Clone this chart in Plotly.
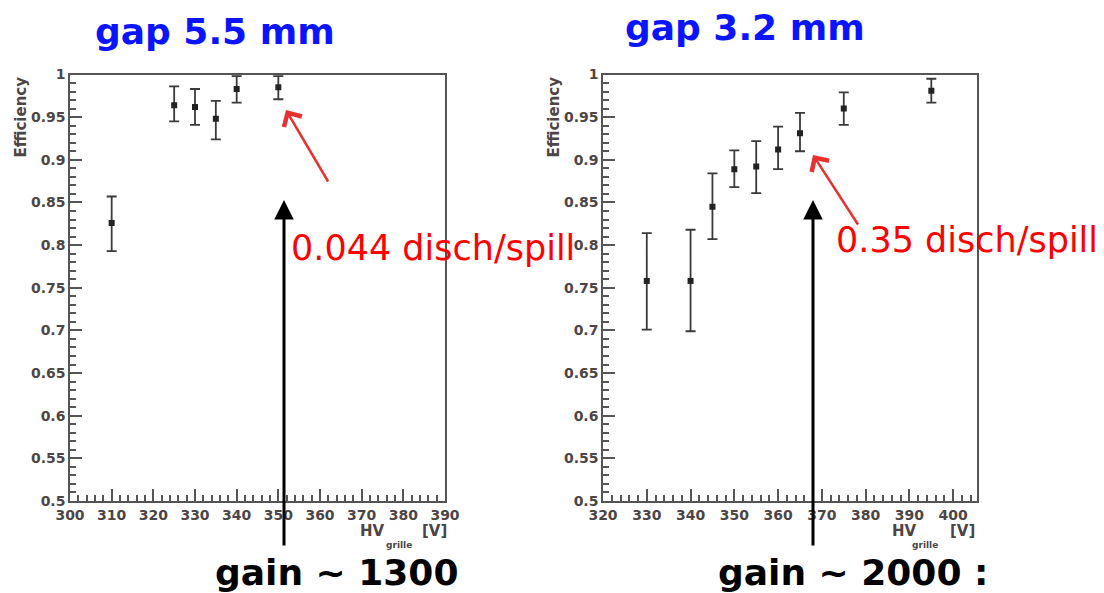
import plotly.graph_objects as go

# ---- data ----
hv_55 = [310, 325, 330, 335, 340, 350]
eff_55 = [0.826, 0.964, 0.962, 0.948, 0.983, 0.985]
up_55 = [0.031, 0.022, 0.021, 0.021, 0.015, 0.013]
dn_55 = [0.033, 0.019, 0.021, 0.024, 0.016, 0.014]

hv_32 = [330, 340, 345, 350, 355, 360, 365, 375, 395]
eff_32 = [0.758, 0.758, 0.845, 0.889, 0.892, 0.912, 0.931, 0.960, 0.981]
up_32 = [0.056, 0.060, 0.039, 0.022, 0.030, 0.027, 0.024, 0.019, 0.014]
dn_32 = [0.057, 0.059, 0.038, 0.021, 0.031, 0.023, 0.021, 0.019, 0.014]

titles = ["gap 5.5 mm", "gap 3.2 mm"]
notes = ["0.044 disch/spill", "0.35 disch/spill"]
gains = ["gain ~ 1300", "gain ~ 2000 :"]

W, H = 1104, 593
def px(x): return x / W
def py(y): return 1 - y / H

AX = "#555555"
TICKC = "#4d4545"
FONT = "DejaVu Sans"

fig = go.Figure()
for hv, eff, up, dn, xa, ya in [(hv_55, eff_55, up_55, dn_55, "x", "y"),
                                (hv_32, eff_32, up_32, dn_32, "x2", "y2")]:
    fig.add_trace(go.Scatter(
        x=hv, y=eff, mode="markers", xaxis=xa, yaxis=ya,
        marker=dict(symbol="square", size=6, color="#222222"),
        error_y=dict(type="data", symmetric=False, array=up, arrayminus=dn,
                     color="#3a3a3a", thickness=1.8, width=5),
        showlegend=False))

def xaxis(domain, rng, anchor):
    return dict(domain=domain, range=rng, dtick=10, tick0=300, anchor=anchor,
                automargin=False,
                ticks="inside", ticklen=12, tickwidth=1.5, tickcolor=AX,
                minor=dict(ticks="inside", ticklen=6, dtick=2, tickwidth=1.5, tickcolor=AX),
                showline=True, linecolor=AX, linewidth=1.5, mirror=True,
                showgrid=False, zeroline=False,
                tickfont=dict(family=FONT, size=14, color=TICKC, weight="bold"))

def yaxis(domain, anchor):
    return dict(domain=domain, range=[0.5, 1.0], dtick=0.05, tick0=0.5, anchor=anchor,
                automargin=False,
                ticks="inside", ticklen=12, tickwidth=1.5, tickcolor=AX,
                minor=dict(ticks="inside", ticklen=6, dtick=0.01, tickwidth=1.5, tickcolor=AX),
                showline=True, linecolor=AX, linewidth=1.5, mirror=True,
                showgrid=False, zeroline=False,
                tickfont=dict(family=FONT, size=14, color=TICKC, weight="bold"))

ydom = [py(501), py(74.5)]
fig.update_layout(
    width=W, height=H, margin=dict(l=0, r=0, t=0, b=0, autoexpand=False),
    paper_bgcolor="white", plot_bgcolor="white",
    xaxis=xaxis([px(70), px(445)], [300, 390], "y"),
    yaxis=yaxis(ydom, "x"),
    xaxis2=xaxis([px(603), px(977.3)], [320, 405.5], "y2"),
    yaxis2=yaxis(ydom, "x2"),
)

ann = []
# titles
for t, cx, cy in [(titles[0], 215, 32), (titles[1], 745, 28)]:
    ann.append(dict(text=t, x=px(cx), y=py(cy), xref="paper", yref="paper",
                    showarrow=False, xanchor="center", yanchor="middle",
                    font=dict(family=FONT, size=36, color="#0a14ff", weight="bold")))
# y-axis titles
for cx in [20, 553]:
    ann.append(dict(text="Efficiency", x=px(cx), y=py(75), xref="paper", yref="paper",
                    showarrow=False, textangle=-90, xanchor="center", yanchor="top",
                    font=dict(family=FONT, size=15, color=TICKC, weight="bold")))
# x-axis titles
for hx, gx, vx in [(372, 399, 434), (904, 925, 962)]:
    ann.append(dict(text="HV", x=px(hx), y=py(531), xref="paper", yref="paper",
                    showarrow=False, xanchor="center", yanchor="middle",
                    font=dict(family=FONT, size=15, color=TICKC, weight="bold")))
    ann.append(dict(text="grille", x=px(gx), y=py(545), xref="paper", yref="paper",
                    showarrow=False, xanchor="center", yanchor="middle",
                    font=dict(family=FONT, size=9, color=TICKC, weight="bold")))
    ann.append(dict(text="[V]", x=px(vx), y=py(531), xref="paper", yref="paper",
                    showarrow=False, xanchor="center", yanchor="middle",
                    font=dict(family=FONT, size=15, color=TICKC, weight="bold")))
# black arrows
for tx in [284, 813]:
    ann.append(dict(text="", x=px(tx), y=py(200), xref="paper", yref="paper",
                    ax=0, ay=347, axref="pixel", ayref="pixel",
                    showarrow=True, arrowhead=2, arrowsize=1.3, arrowwidth=3,
                    arrowcolor="black"))
# red arrows
for tx, ty, dx, dy in [(286, 110, 43, 73), (813, 155, 46, 71)]:
    ann.append(dict(text="", x=px(tx), y=py(ty), xref="paper", yref="paper",
                    ax=dx, ay=dy, axref="pixel", ayref="pixel",
                    showarrow=True, arrowhead=4, arrowsize=1.6, arrowwidth=2.5,
                    arrowcolor="#e8302f"))
# red notes
for t, lx, cy in [(notes[0], 289, 248), (notes[1], 834, 240)]:
    ann.append(dict(text=t, x=px(lx), y=py(cy), xref="paper", yref="paper",
                    showarrow=False, xanchor="left", yanchor="middle",
                    font=dict(family=FONT, size=35, color="#ff0000")))
# gain labels
for t, cx in [(gains[0], 336), (gains[1], 853)]:
    ann.append(dict(text=t, x=px(cx), y=py(572), xref="paper", yref="paper",
                    showarrow=False, xanchor="center", yanchor="middle",
                    font=dict(family=FONT, size=36, color="black", weight="bold")))

fig.update_layout(annotations=ann)
fig.write_html("out.html")
